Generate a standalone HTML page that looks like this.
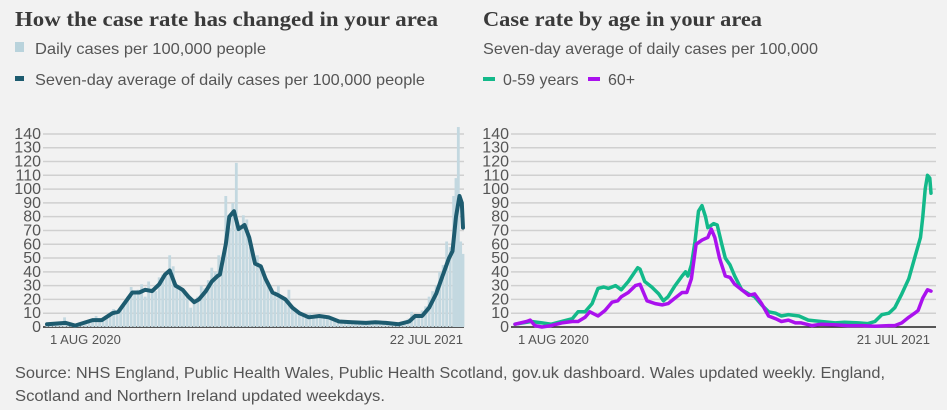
<!DOCTYPE html>
<html><head><meta charset="utf-8"><style>
body{margin:0;width:947px;height:410px;background:#f2f2f2;overflow:hidden;font-family:"Liberation Sans",sans-serif;}
svg{position:absolute;left:0;top:0}
</style></head><body>
<svg width="947" height="410" id="svg">
<text x="15" y="26" font-family="Liberation Serif,serif" font-weight="bold" font-size="21" fill="#3a3a3a" textLength="423" lengthAdjust="spacingAndGlyphs">How the case rate has changed in your area</text>
<text x="483" y="26" font-family="Liberation Serif,serif" font-weight="bold" font-size="21" fill="#3a3a3a" textLength="279" lengthAdjust="spacingAndGlyphs">Case rate by age in your area</text>
<rect x="15" y="42" width="9" height="10" fill="#b9d3dc"/>
<text x="35" y="54" font-size="16" fill="#555" textLength="231" lengthAdjust="spacingAndGlyphs">Daily cases per 100,000 people</text>
<rect x="15" y="76" width="9" height="5" fill="#1d5b6f"/>
<text x="35" y="85" font-size="16" fill="#555" textLength="390" lengthAdjust="spacingAndGlyphs">Seven-day average of daily cases per 100,000 people</text>
<text x="483" y="54" font-size="16" fill="#555" textLength="335" lengthAdjust="spacingAndGlyphs">Seven-day average of daily cases per 100,000</text>
<rect x="483" y="77" width="12" height="4" fill="#13b98a"/>
<text x="503" y="85" font-size="16" fill="#555">0-59 years</text>
<rect x="588" y="77" width="12" height="4" fill="#aa11ee"/>
<text x="608" y="85" font-size="16" fill="#555">60+</text>
<g id="left"></g>
<g id="right"></g>
<text x="15" y="378" font-size="16" fill="#555" textLength="870" lengthAdjust="spacingAndGlyphs">Source: NHS England, Public Health Wales, Public Health Scotland, gov.uk dashboard. Wales updated weekly. England,</text>
<text x="15" y="401" font-size="16" fill="#555" textLength="370" lengthAdjust="spacingAndGlyphs">Scotland and Northern Ireland updated weekdays.</text>
</svg>
<script>
const yTicks=[0,10,20,30,40,50,60,70,80,90,100,110,120,130,140];
const barDays=[0,3,6,9,12,15,18,21,24,27,30,33,36,39,42,45,48,51,54,57,60,63,66,69,72,75,78,81,84,87,90,93,96,99,102,105,108,111,114,117,120,123,126,129,132,135,138,141,144,147,150,153,156,159,162,165,168,171,174,177,180,183,186,189,192,195,198,201,204,207,210,213,216,219,222,225,228,231,234,237,240,243,246,249,252,255,258,261,264,267,270,273,276,279,282,285,288,291,294,297,300,303,306,309,312,315,318,321,324,327,330,333,336,339,342,345,348,350,352,354,356];
const barValues=[2,3,2,3,4,7,3,2,1,2,3,2,4,6,8,4,6,8,10,13,11,12,16,22,29,24,27,31,22,33,28,26,36,38,37,52,44,30,28,25,22,14,18,22,30,28,34,43,40,52,46,95,72,90,119,70,81,78,58,45,52,44,37,30,28,24,30,22,18,27,14,12,10,9,7,10,8,7,9,7,8,6,5,4,3,4,3,4,3,4,3,4,3,4,3,4,3,3,2,2,3,2,4,6,11,9,8,12,15,22,26,30,40,45,62,58,95,108,145,62,53];
const avgDays=[0,16,24,39,47,56,61,67,73,79,84,90,96,101,105,110,116,121,126,130,136,141,146,148,153,156,160,164,169,173,178,183,187,193,198,204,210,216,224,233,241,250,261,273,281,290,301,310,315,321,327,333,338,344,347,350,353,355,356];
const avgValues=[2,3,1,5,5,10,11,18,25,25,27,26,31,38,41,30,27,22,18,20,26,33,37,38,60,80,84,71,74,65,46,44,35,25,23,20,14,10,7,8,7,4,3.5,3,3.5,3,2,4,8,8,14,24,36,50,55,80,95,90,72];
const youngDays=[0,14,23,31,40,49,54,60,66,71,76,80,86,91,97,101,105,107,111,117,123,127,131,137,143,146,148,151,154,157,160,163,165,170,173,177,180,184,188,194,200,205,211,217,223,228,234,243,251,262,274,282,294,302,308,314,320,325,331,337,342,347,349,351,353,355,356];
const youngValues=[2,4,3,2,4,6,11,11,17,28,29,28,30,27,33,38,43,42,33,29,24,19,22,30,37,40,37,45,62,84,88,80,72,75,74,60,50,45,37,27,24,22,16,11,10,8,9,8,5,4,3,3.5,3,2.5,4,9,10,14,24,35,50,65,80,100,110,108,97];
const oldDays=[0,10,13,17,23,31,40,49,54,60,64,71,77,83,88,91,97,103,107,113,120,126,131,137,143,147,151,155,160,165,168,171,175,180,184,188,194,200,205,211,217,223,228,234,240,245,254,262,274,285,297,308,320,325,331,337,342,345,349,353,356];
const oldValues=[2,4,5,1,0,1,3,4,4,7,11,8,12,18,19,22,25,30,31,19,17,16,17,21,25,25,35,60,63,65,71,65,50,37,36,31,27,23,24,17,8,6,4,5,3,3,1,2,1.5,1,1,0.5,1,1,3,7,10,12,21,27,26];

const NS="http://www.w3.org/2000/svg";
function mk(tag,attrs,parent){const e=document.createElementNS(NS,tag);for(const k in attrs)e.setAttribute(k,attrs[k]);parent.appendChild(e);return e;}
function yScale(v){return 327-v*1.379;}
function axes(g,x0,x1,labelX,startLabel,endLabel,startX,endX){
  yTicks.forEach(t=>{
    const l=mk('line',{x1:x0,x2:x1,y1:yScale(t),y2:yScale(t),stroke:t===0?'#222':'#d0d0d0','stroke-width':1.5},g);
    
    
    const tx=mk('text',{x:labelX,y:yScale(t)+5,'text-anchor':'end','font-size':16,fill:'#555'},g);
    tx.textContent=t;
    
    
  });
  const a=mk('text',{x:startX,y:344,'font-size':13,fill:'#555'},g);a.textContent=startLabel;
  
  
  const b=mk('text',{x:endX,y:344,'font-size':13,fill:'#555','text-anchor':'end'},g);b.textContent=endLabel;
  
  
}
function line(g,xs,days,vals,color,w,name){
  const d=days.map((dd,i)=>(i?'L':'M')+xs(dd).toFixed(1)+','+yScale(vals[i]).toFixed(1)).join('');
  const p=mk('path',{d:d,fill:'none',stroke:color,'stroke-width':w,'stroke-linejoin':'round','stroke-linecap':'round'},g);
  
  
}
const L=document.getElementById('left'),R=document.getElementById('right');
const xl=d=>47+d*(463-47)/356, xr=d=>515+d*(931-515)/356;
axes(L,43,464,41,'1 AUG 2020','22 JUL 2021',50,463);
barDays.forEach((d,i)=>{
  const r=mk('rect',{x:xl(d)-1.4,y:yScale(barValues[i]),width:2.8,height:barValues[i]*1.379,fill:'#c3d8e0'},L);
  
  
});
line(L,xl,avgDays,avgValues,'#1d5b6f',4,'seven-day-average-line');
axes(R,511,936,509,'1 AUG 2020','21 JUL 2021',518,930);
line(R,xr,youngDays,youngValues,'#13b98a',3.5,'age-0-59-line');
line(R,xr,oldDays,oldValues,'#aa11ee',3.5,'age-60-plus-line');
</script>
</body></html>
